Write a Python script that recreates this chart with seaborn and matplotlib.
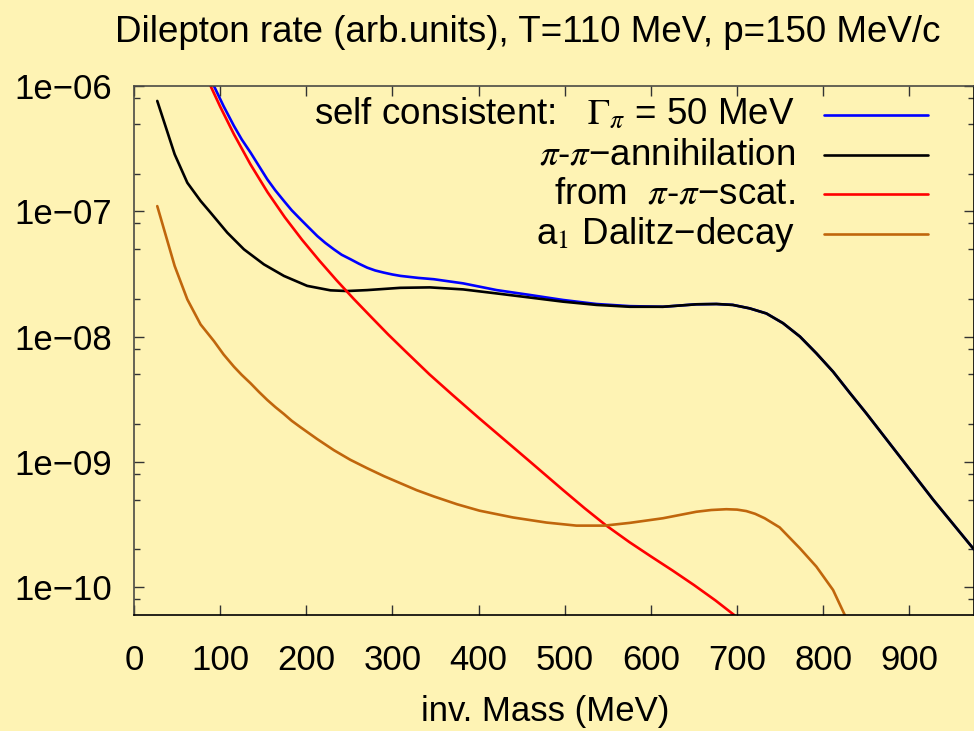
import numpy as np
import pandas as pd
import matplotlib
matplotlib.use("Agg")
import matplotlib.pyplot as plt
import matplotlib.ticker as mticker
import seaborn as sns

# ---------------- data ----------------
self_x = [80, 92.8, 104, 116, 125, 135.3, 145, 154.7, 164, 174, 183, 193.3, 203, 212.7,
          222, 232, 241, 251.4, 261, 270.7, 280, 290, 300, 309.4, 330, 348, 382, 421,
          459.4, 498, 536.8, 575.5, 614, 652.8, 676, 695, 714.6, 734, 753.3, 773, 792,
          811.4, 830.6, 850, 889, 927.5, 975]
self_y = [1.3e-6, 1.0e-6, 6.9e-7, 4.8e-7, 3.75e-7, 2.94e-7, 2.3e-7, 1.8e-7, 1.47e-7,
          1.21e-7, 1.02e-7, 8.63e-8, 7.4e-8, 6.35e-8, 5.6e-8, 4.97e-8, 4.5e-8, 4.14e-8,
          3.82e-8, 3.55e-8, 3.37e-8, 3.24e-8, 3.13e-8, 3.05e-8, 2.94e-8, 2.87e-8,
          2.66e-8, 2.35e-8, 2.15e-8, 1.96e-8, 1.82e-8, 1.75e-8, 1.73e-8, 1.81e-8,
          1.82e-8, 1.79e-8, 1.68e-8, 1.53e-8, 1.28e-8, 1.0e-8, 7.36e-9, 5.25e-9,
          3.57e-9, 2.44e-9, 1.1e-9, 5.0e-10, 2.0e-10]

ann_x = [27, 47.2, 61.9, 77.3, 88.9, 108.3, 127.6, 150.8, 174, 201, 228, 247.5, 270.7,
         309, 343.4, 382, 421, 459.4, 498, 536.8, 575.5, 614, 652.8, 676, 695, 714.6,
         734, 753.3, 773, 792, 811.4, 830.6, 850, 889, 927.5, 975]
ann_y = [7.6e-7, 2.85e-7, 1.69e-7, 1.21e-7, 9.75e-8, 6.75e-8, 4.97e-8, 3.77e-8,
         3.05e-8, 2.54e-8, 2.34e-8, 2.31e-8, 2.35e-8, 2.45e-8, 2.47e-8, 2.38e-8,
         2.21e-8, 2.05e-8, 1.9e-8, 1.79e-8, 1.73e-8, 1.73e-8, 1.81e-8, 1.82e-8,
         1.79e-8, 1.68e-8, 1.53e-8, 1.28e-8, 1.0e-8, 7.36e-9, 5.25e-9, 3.57e-9,
         2.44e-9, 1.1e-9, 5.0e-10, 2.0e-10]

scat_x = [80, 88.9, 100, 116, 135, 155, 175, 195, 215, 235, 255, 275, 295, 315, 343,
          370, 400, 430, 460, 498, 523, 548, 575, 600, 625, 650, 675, 697]
scat_y = [1.37e-6, 1.0e-6, 6.85e-7, 4.12e-7, 2.38e-7, 1.42e-7, 8.97e-8, 5.93e-8,
          4.05e-8, 2.82e-8, 2.0e-8, 1.44e-8, 1.04e-8, 7.64e-9, 4.99e-9, 3.41e-9,
          2.25e-9, 1.5e-9, 1.0e-9, 5.96e-10, 4.27e-10, 3.11e-10, 2.29e-10, 1.76e-10,
          1.36e-10, 1.04e-10, 7.83e-11, 5.97e-11]

a1_x = [27, 47.2, 61.9, 77.3, 92.8, 104, 116, 125, 135.3, 145, 154.7, 164, 174, 183,
        193.3, 212.7, 232, 251, 270.7, 290, 309.4, 328, 348, 375, 401, 440, 478.7,
        513.5, 546, 575.4, 614, 652.8, 670, 687.5, 700, 710.7, 721, 732, 749.4, 773,
        792, 811.4, 825]
a1_y = [1.1e-7, 3.66e-8, 1.98e-8, 1.25e-8, 9.2e-9, 7.2e-9, 5.75e-9, 4.95e-9, 4.24e-9,
        3.62e-9, 3.12e-9, 2.74e-9, 2.41e-9, 2.13e-9, 1.89e-9, 1.52e-9, 1.24e-9,
        1.04e-9, 8.9e-10, 7.7e-10, 6.75e-10, 5.95e-10, 5.3e-10, 4.59e-10, 4.08e-10,
        3.6e-10, 3.28e-10, 3.1e-10, 3.1e-10, 3.26e-10, 3.55e-10, 4.0e-10,
        4.13e-10, 4.19e-10, 4.16e-10, 4.05e-10, 3.85e-10, 3.55e-10, 3.0e-10,
        2.04e-10, 1.46e-10, 9.5e-11, 6.0e-11]

labels = [r"self consistent:   $\Gamma_{\pi}$ = 50 MeV",
          r"$\pi$-$\pi$−annihilation",
          r"from  $\pi$-$\pi$−scat.",
          r"a$_1$ Dalitz−decay"]
colors = ["#0000ff", "#000000", "#ff0000", "#c0660c"]

x_ticks = [0, 100, 200, 300, 400, 500, 600, 700, 800, 900]
y_ticks = [1e-10, 1e-9, 1e-8, 1e-7, 1e-6]
y_tick_labels = ["1e−10", "1e−09", "1e−08", "1e−07", "1e−06"]

title = "Dilepton rate (arb.units), T=110 MeV, p=150 MeV/c"
xlabel = "inv. Mass (MeV)"

# ---------------- style ----------------
BG = "#fef3b4"
sns.set_theme(style="ticks")
plt.rcParams["font.family"] = ["Liberation Sans", "DejaVu Sans"]
plt.rcParams["mathtext.fontset"] = "stix"
plt.rcParams["axes.facecolor"] = BG
plt.rcParams["figure.facecolor"] = BG
plt.rcParams["text.color"] = "black"
plt.rcParams["axes.labelcolor"] = "black"
plt.rcParams["xtick.color"] = "black"
plt.rcParams["ytick.color"] = "black"

fig = plt.figure(figsize=(9.74, 7.31), dpi=100)
ax = fig.add_axes([134 / 974, (731 - 615) / 731, 840 / 974, (615 - 86) / 731])
ax.set_facecolor(BG)

series = [(self_x, self_y), (ann_x, ann_y), (scat_x, scat_y), (a1_x, a1_y)]
for (xs, ys), c in zip(series, colors):
    df = pd.DataFrame({"m": xs, "rate": ys})
    sns.lineplot(data=df, x="m", y="rate", color=c, linewidth=1.9, ax=ax,
                 sort=False, estimator=None)

ax.set_yscale("log")
ax.set_xlim(0, 975)
ax.set_ylim(10 ** -10.222, 1e-6)

ax.set_xticks(x_ticks)
ax.set_xticklabels([str(v) for v in x_ticks])
ax.set_yticks(y_ticks)
ax.set_yticklabels(y_tick_labels)
ax.yaxis.set_minor_locator(mticker.LogLocator(base=10, subs=[2, 5, 8]))
ax.yaxis.set_minor_formatter(mticker.NullFormatter())
ax.xaxis.set_minor_locator(mticker.NullLocator())

ax.tick_params(axis="both", which="major", direction="in", length=7, width=1,
               color="#333333", labelcolor="black", labelsize=25, top=True, right=True)
ax.tick_params(axis="y", which="minor", direction="in", length=4, width=1,
               color="#333333", right=True)
ax.tick_params(axis="x", which="major", pad=21)
ax.tick_params(axis="y", which="major", pad=16)

for name, s in ax.spines.items():
    s.set_linewidth(1.2)
    s.set_color("#000000" if name in ("bottom", "right") else "#4a4a44")

ax.set_xlabel(xlabel, fontsize=25, color="black")
ax.xaxis.set_label_coords((545 - 134) / 840, (615 - 721) / 529)
ax.xaxis.label.set_va("baseline")
ax.set_ylabel("")

fig.text(528 / 974, 1 - 41.5 / 731, title, ha="center", va="baseline",
         fontsize=26.5, color="black")

# legend (gnuplot style: right-aligned text, sample line to the right)
leg_y = [(615 - 115) / 529, (615 - 155) / 529, (615 - 194) / 529, (615 - 234) / 529]
for lab, c, yy in zip(labels, colors, leg_y):
    ax.text((795 - 134) / 840, yy, lab, transform=ax.transAxes, ha="right",
            va="center", fontsize=26.5, color="black")
    ax.plot([(824 - 134) / 840, (928 - 134) / 840], [yy, yy], transform=ax.transAxes,
            color=c, linewidth=1.9)

fig.savefig("out.png", dpi=100, facecolor=BG)
